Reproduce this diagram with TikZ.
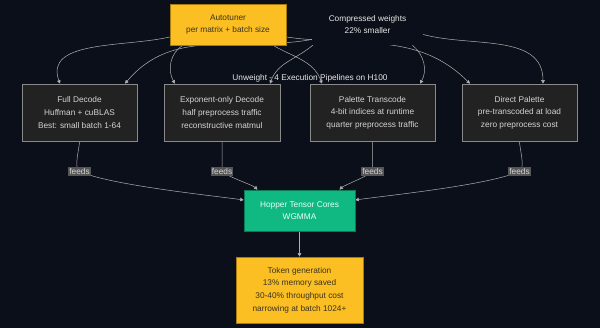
\documentclass[tikz,border=0pt]{standalone}
\usepackage{fontspec}
\setmainfont{Liberation Sans}
\usetikzlibrary{arrows.meta}
\definecolor{bgdark}{HTML}{0B0F19}
\definecolor{boxfill}{HTML}{222222}
\definecolor{boxline}{HTML}{8A8A8A}
\definecolor{boxtext}{HTML}{D4D4D4}
\definecolor{lighttext}{HTML}{E8E8E8}
\definecolor{amber}{HTML}{FBBF24}
\definecolor{amberline}{HTML}{A67C10}
\definecolor{ambertext}{HTML}{3A3320}
\definecolor{tensor}{HTML}{10B981}
\definecolor{tensorline}{HTML}{0A7A55}
\definecolor{tensortext}{HTML}{E8FFF6}
\definecolor{linkgray}{HTML}{B0B0B0}
\definecolor{feedfill}{HTML}{555555}
\pgfdeclarelayer{bg}
\pgfdeclarelayer{edges}
\pgfsetlayers{bg,edges,main}
\begin{document}
\begin{tikzpicture}[x=1pt,y=1pt,
	txt/.style={align=center,inner sep=0pt,font=\fontsize{8.3}{12.6}\selectfont},
	pipe/.style={txt,draw=boxline,fill=boxfill,text=boxtext,line width=0.6pt,minimum height=57pt},
	amberbox/.style={txt,draw=amberline,fill=amber,text=ambertext,line width=0.6pt},
	tensorbox/.style={txt,draw=tensorline,fill=tensor,text=tensortext,line width=0.6pt},
	plainbox/.style={txt,fill=bgdark,text=lighttext},
	link/.style={draw=linkgray,line width=0.5pt,-{Triangle[length=3.5pt,width=3.5pt]}},
	feeds/.style={txt,fill=feedfill,text=boxtext,inner xsep=1pt,inner ysep=1.5pt}]
	\begin{pgfonlayer}{bg}
		\fill[bgdark] (0,0) rectangle (600,-328);
	\end{pgfonlayer}
	\useasboundingbox (0,0) rectangle (600,-328);
	
	\node[amberbox,minimum width=116pt,minimum height=41pt] (auto) at (228,-24.5) {Autotuner\\per matrix + batch size};
	\node[plainbox,minimum width=111pt,minimum height=41pt] (comp) at (367.5,-24.5) {Compressed weights\\22\% smaller};
	\node[txt,text=lighttext] (title) at (310,-78) {Unweight - 4 Execution Pipelines on H100};
	
	\node[pipe,minimum width=115pt] (full) at (79.5,-112.5) {Full Decode\\Huffman + cuBLAS\\Best: small batch 1-64};
	\node[pipe,minimum width=116pt] (expo) at (222,-112.5) {Exponent-only Decode\\half preprocess traffic\\reconstructive matmul};
	\node[pipe,minimum width=125pt] (pal) at (372.5,-112.5) {Palette Transcode\\4-bit indices at runtime\\quarter preprocess traffic};
	\node[pipe,minimum width=115pt] (direct) at (519.5,-112.5) {Direct Palette\\pre-transcoded at load\\zero preprocess cost};
	
	\node[tensorbox,minimum width=111pt,minimum height=41pt] (hopper) at (299.5,-210.5) {Hopper Tensor Cores\\WGMMA};
	\node[amberbox,minimum width=127pt,minimum height=66pt] (token) at (299.5,-290) {Token generation\\13\% memory saved\\30-40\% throughput cost\\narrowing at batch 1024+};
	
	\begin{pgfonlayer}{edges}
		\draw[link] ([yshift=-12.5pt]auto.west) to[out=193,in=110] ([xshift=-19.5pt]full.north);
		\draw[link] ([xshift=-45pt]auto.south) to[out=210,in=120] ([xshift=-47pt]expo.north);
		\draw[link] ([xshift=45pt]auto.south) to[out=330,in=110] ([xshift=-50.5pt]pal.north);
		\draw[link] ([yshift=-12.5pt]auto.east) to[out=-8,in=135] ([xshift=-49.5pt]direct.north);
		
		\draw[link] ([yshift=-15pt]comp.west) to[out=190,in=50] ([xshift=45.5pt]full.north);
		\draw[link] ([xshift=1pt]comp.south west) to[out=220,in=70] ([xshift=48pt]expo.north);
		\draw[link] ([xshift=45pt]comp.south) to[out=320,in=60] ([xshift=47.5pt]pal.north);
		\draw[link] ([yshift=-10pt]comp.east) to[out=-15,in=90] ([xshift=23.5pt]direct.north);
		
		\draw[link] (full.south) to[out=270,in=150,looseness=0.6] ([yshift=-30pt]full.south) node[feeds] {feeds} to[out=-25,in=172,looseness=0.5] ([yshift=10.5pt]hopper.west);
		\draw[link] (expo.south) to[out=270,in=90] ([yshift=-30pt]expo.south) node[feeds] {feeds} to[out=-50,in=135,looseness=0.4] ([xshift=-42pt]hopper.north);
		\draw[link] (pal.south) to[out=270,in=90] ([yshift=-30pt]pal.south) node[feeds] {feeds} to[out=230,in=45,looseness=0.4] ([xshift=40pt]hopper.north);
		\draw[link] (direct.south) to[out=270,in=30,looseness=0.6] ([yshift=-30pt]direct.south) node[feeds] {feeds} to[out=205,in=8,looseness=0.5] ([yshift=10.5pt]hopper.east);
		
		\draw[link] (hopper.south) -- (token.north);
	\end{pgfonlayer}
\end{tikzpicture}
\end{document}
